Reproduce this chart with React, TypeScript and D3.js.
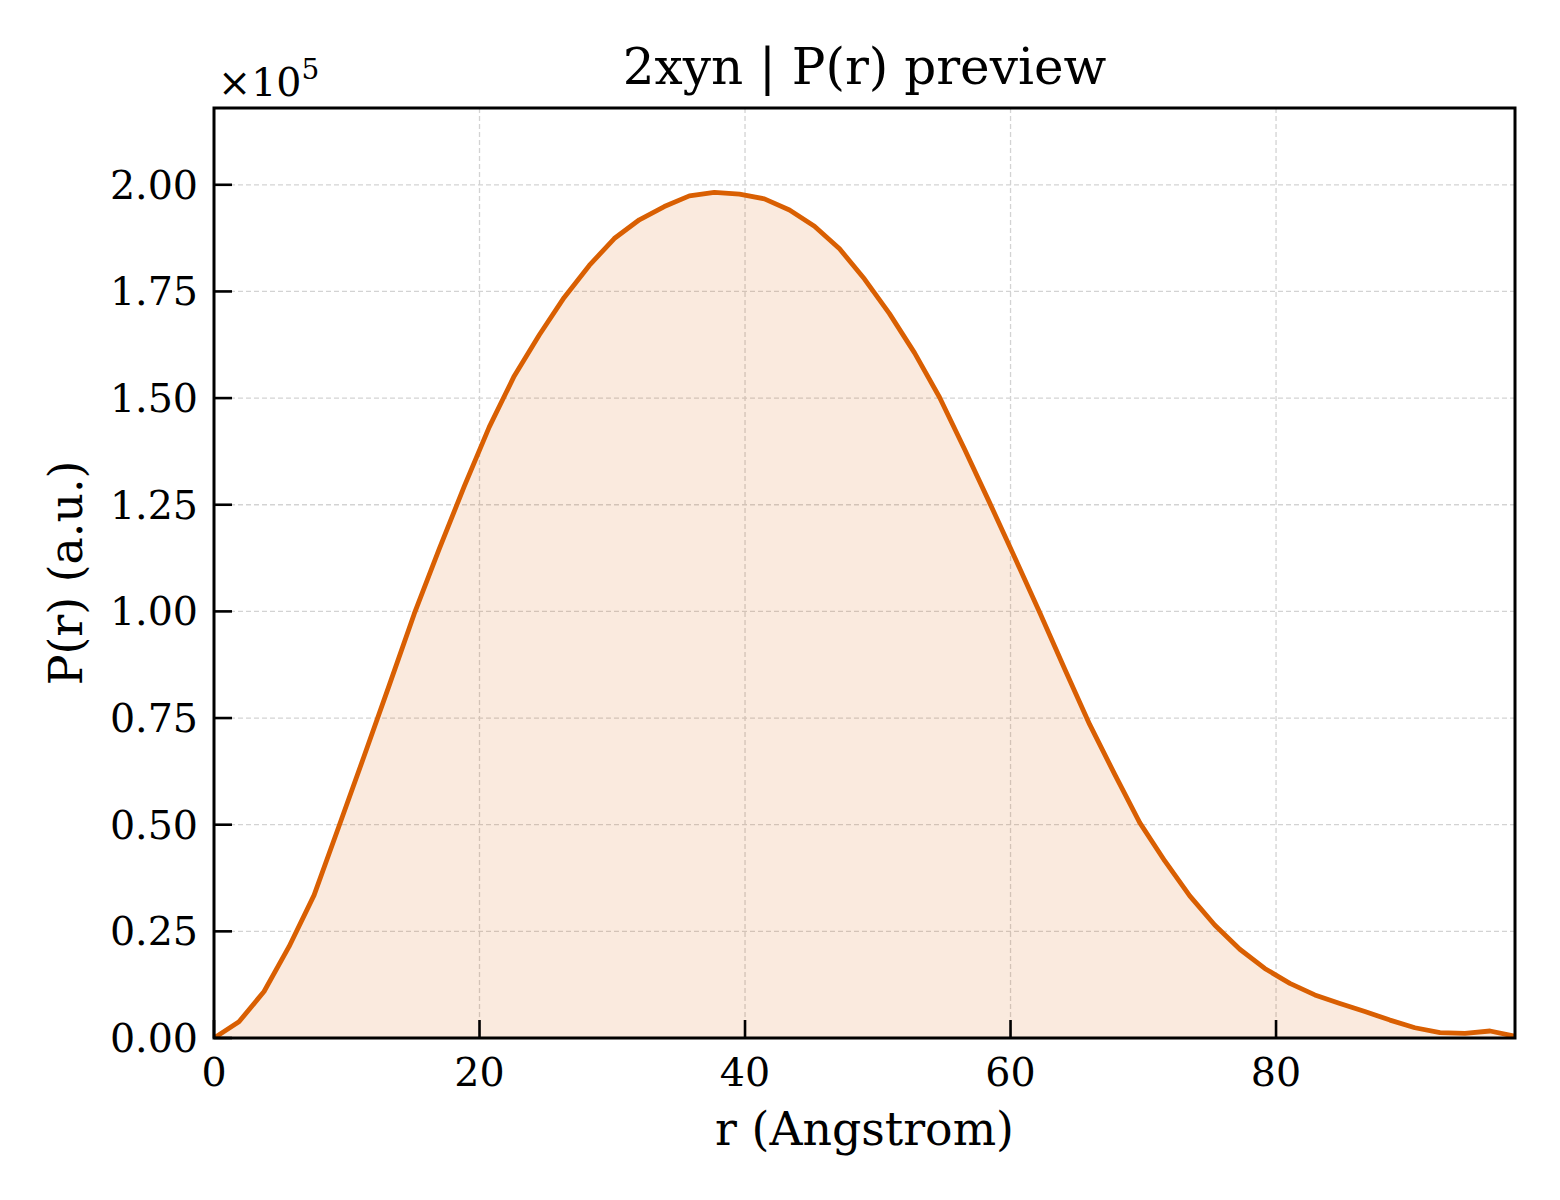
import { scaleLinear, line, area } from "d3"

// P(r) distance distribution
const rValues = [
  0, 1.88, 3.77, 5.65, 7.54, 9.42, 11.31, 13.19, 15.08, 16.96, 18.85, 20.73,
  22.62, 24.5, 26.38, 28.27, 30.15, 32.04, 33.92, 35.81, 37.69, 39.58, 41.46,
  43.35, 45.23, 47.12, 49.0, 50.88, 52.77, 54.65, 56.54, 58.42, 60.31, 62.19,
  64.08, 65.96, 67.85, 69.73, 71.62, 73.5, 75.38, 77.27, 79.15, 81.04, 82.92,
  84.81, 86.69, 88.58, 90.46, 92.35, 94.23, 96.12, 98.0,
]

const prValues = [
  0, 3800, 10900, 21400, 33500, 49700, 66100, 82600, 99400, 114600, 129300,
  143200, 155200, 164800, 173600, 181100, 187400, 191800, 194900, 197400,
  198200, 197800, 196700, 194100, 190300, 185000, 177900, 169800, 160600,
  150200, 138000, 125500, 112700, 99800, 86500, 73500, 61800, 50500, 41500,
  33300, 26500, 20800, 16300, 12800, 10100, 8100, 6200, 4200, 2400, 1250, 1100,
  1640, 400,
]

const xTicks = [0, 20, 40, 60, 80]
const yTicks = [0, 25000, 50000, 75000, 100000, 125000, 150000, 175000, 200000]

const title = "2xyn | P(r) preview"
const xLabel = "r (Angstrom)"
const yLabel = "P(r) (a.u.)"

export default function App() {
  const width = 1560
  const height = 1200
  const margin = { left: 214, right: 45, top: 108, bottom: 162 }
  const x0 = margin.left
  const x1 = width - margin.right
  const y0 = height - margin.bottom
  const y1 = margin.top

  const x = scaleLinear().domain([0, 98]).range([x0, x1])
  const y = scaleLinear().domain([0, 218000]).range([y0, y1])

  const pts = rValues.map((r, i) => ({ r, p: prValues[i] }))

  const lineGen = line<any>()
    .x((d) => x(d.r))
    .y((d) => y(d.p))
  const areaGen = area<any>()
    .x((d) => x(d.r))
    .y0(y(0))
    .y1((d) => y(d.p))

  const orange = "#d95f02"
  const font = "'DejaVu Serif', serif"
  const tickLen = 18

  return (
    <div style={{ position: "absolute", left: 0, top: 0 }}>
      <svg width={width} height={height} style={{ display: "block", background: "#fff" }}>
        <defs>
          <clipPath id="plot-clip">
            <rect x={x0} y={y1} width={x1 - x0} height={y0 - y1} />
          </clipPath>
        </defs>

        {/* grid */}
        <g stroke="#d3d3d3" strokeWidth={1.3} strokeDasharray="5,3">
          {xTicks.map((t) => (
            <line key={"gx" + t} x1={x(t)} x2={x(t)} y1={y1} y2={y0} />
          ))}
          {yTicks.map((t) => (
            <line key={"gy" + t} x1={x0} x2={x1} y1={y(t)} y2={y(t)} />
          ))}
        </g>

        <g clipPath="url(#plot-clip)">
          <path d={areaGen(pts) || undefined} fill={orange} fillOpacity={0.13} />
          <path
            d={lineGen(pts) || undefined}
            fill="none"
            stroke={orange}
            strokeWidth={4.8}
            strokeLinejoin="round"
          />
        </g>

        {/* ticks, pointing in */}
        <g stroke="#000" strokeWidth={2.6}>
          {xTicks.map((t) => (
            <line key={"tx" + t} x1={x(t)} x2={x(t)} y1={y0} y2={y0 - tickLen} />
          ))}
          {yTicks.map((t) => (
            <line key={"ty" + t} x1={x0} x2={x0 + tickLen} y1={y(t)} y2={y(t)} />
          ))}
        </g>

        <rect
          x={x0}
          y={y1}
          width={x1 - x0}
          height={y0 - y1}
          fill="none"
          stroke="#000"
          strokeWidth={3}
        />

        <g fontFamily={font} fontSize={39.6} fill="#000">
          {xTicks.map((t) => (
            <text key={"lx" + t} x={x(t)} y={y0 + 48} textAnchor="middle">
              {t}
            </text>
          ))}
          {yTicks.map((t) => (
            <text key={"ly" + t} x={x0 - 16} y={y(t) + 14} textAnchor="end">
              {(t / 1e5).toFixed(2)}
            </text>
          ))}
          <text x={x0 + 4} y={96}>
            ×10
            <tspan dy={-17} fontSize={28}>
              5
            </tspan>
          </text>
        </g>

        <text
          x={(x0 + x1) / 2}
          y={84}
          textAnchor="middle"
          fontFamily={font}
          fontSize={50}
        >
          {title}
        </text>
        <text
          x={(x0 + x1) / 2}
          y={1145}
          textAnchor="middle"
          fontFamily={font}
          fontSize={45.8}
        >
          {xLabel}
        </text>
        <text
          transform={`translate(82, ${(y0 + y1) / 2}) rotate(-90)`}
          textAnchor="middle"
          fontFamily={font}
          fontSize={45.8}
        >
          {yLabel}
        </text>
      </svg>
    </div>
  )
}
